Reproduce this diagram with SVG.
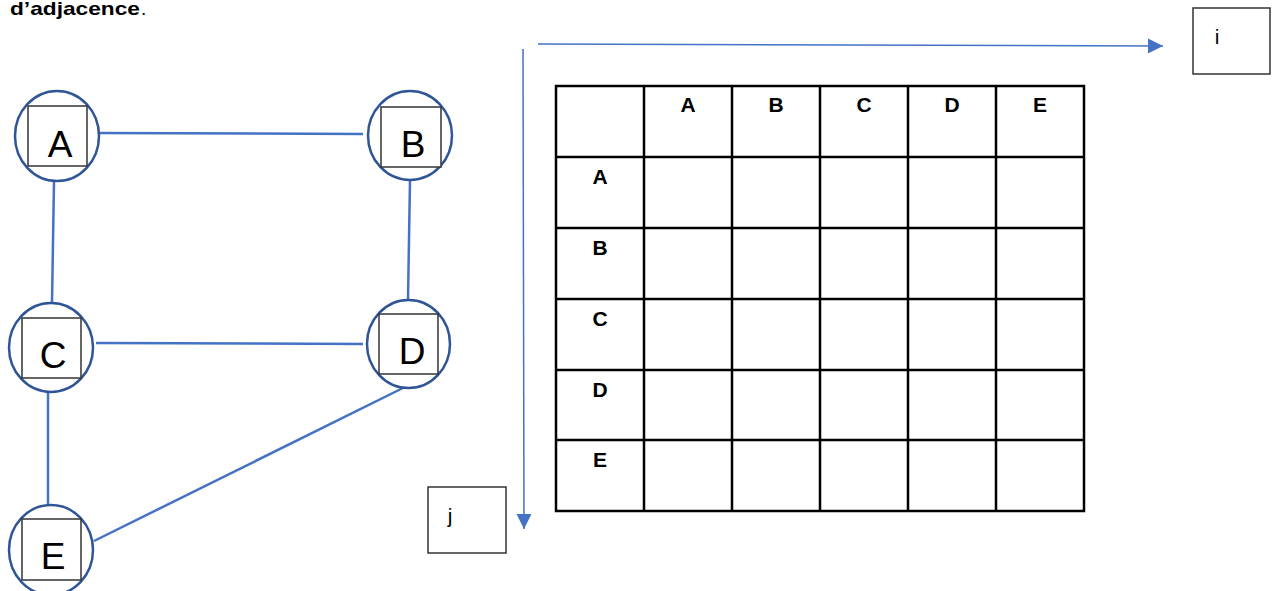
<svg xmlns="http://www.w3.org/2000/svg" width="1272" height="591" viewBox="0 0 1272 591">
<style>
.circ{fill:#fff;stroke:#2F5597;stroke-width:2.5}
.sq{fill:#fff;stroke:#333;stroke-width:1.5}
.lbl{font-family:"Liberation Sans",Arial,sans-serif;font-size:37px;fill:#000;text-anchor:middle}
.edge{stroke:#4472C4;stroke-width:2.5;fill:none}
.axis{stroke:#4472C4;stroke-width:1.5;fill:none}
.grid{stroke:#000;stroke-width:2.5;fill:none}
.th{font-family:"Liberation Sans",Arial,sans-serif;font-size:21px;font-weight:bold;fill:#000;text-anchor:middle}
.box{fill:#fff;stroke:#333;stroke-width:1.5}
.ij{font-family:"Liberation Sans",Arial,sans-serif;font-size:21px;fill:#000;text-anchor:middle}
</style>
<defs>
<marker id="arr" viewBox="0 0 15 15" refX="15" refY="7.5" markerWidth="15" markerHeight="15" markerUnits="userSpaceOnUse" orient="auto">
<path d="M0,0 L15,7.5 L0,15 Z" fill="#4472C4"/>
</marker>
</defs>
<text x="10" y="15" font-family="Liberation Sans, Arial, sans-serif" font-size="19" font-weight="bold" textLength="130" lengthAdjust="spacingAndGlyphs">d’adjacence</text><text x="141" y="15" font-family="Liberation Sans, Arial, sans-serif" font-size="19">.</text>
<g id="connectors">
<line class="edge" x1="95" y1="133" x2="363" y2="134"/>
<line class="edge" x1="54" y1="181" x2="52" y2="303"/>
<line class="edge" x1="410" y1="180" x2="408" y2="300"/>
<line class="edge" x1="96" y1="343" x2="363" y2="344"/>
<line class="edge" x1="48" y1="393" x2="48" y2="505"/>
<line class="edge" x1="94" y1="541" x2="409" y2="385"/>
<line class="axis" x1="538" y1="44" x2="1163" y2="46" marker-end="url(#arr)"/>
<line class="axis" x1="523" y1="49" x2="524" y2="529" marker-end="url(#arr)"/>
</g>
<g id="node-A">
<ellipse class="circ" cx="57" cy="136" rx="42" ry="45"/>
<rect class="sq" x="28" y="106" width="59" height="60"/>
<text class="lbl" x="60" y="157">A</text>
</g>
<g id="node-B">
<ellipse class="circ" cx="410" cy="135.5" rx="42" ry="44.5"/>
<rect class="sq" x="381" y="107" width="60" height="60"/>
<text class="lbl" x="413" y="157">B</text>
</g>
<g id="node-C">
<ellipse class="circ" cx="51" cy="347.5" rx="42" ry="44.5"/>
<rect class="sq" x="22" y="318" width="59" height="60"/>
<text class="lbl" x="53" y="368">C</text>
</g>
<g id="node-D">
<ellipse class="circ" cx="408.5" cy="344" rx="41.5" ry="44"/>
<rect class="sq" x="379" y="314" width="59" height="60"/>
<text class="lbl" x="412" y="364">D</text>
</g>
<g id="node-E">
<ellipse class="circ" cx="51" cy="550" rx="42" ry="45"/>
<rect class="sq" x="22" y="519" width="59" height="61"/>
<text class="lbl" x="53" y="569">E</text>
</g>
<g id="box-i">
<rect class="box" x="1193" y="8" width="77" height="66"/>
<text class="ij" x="1217" y="44">i</text>
</g>
<g id="box-j">
<rect class="box" x="428" y="487" width="78" height="66"/>
<text class="ij" x="450" y="523">j</text>
</g>
<g id="table">
<rect class="grid" x="556" y="86" width="528" height="425"/>
<path class="grid" d="M644,86V511M732,86V511M820,86V511M908,86V511M996,86V511M556,157H1084M556,228H1084M556,299H1084M556,370H1084M556,440H1084"/>
<text class="th" x="688" y="112">A</text>
<text class="th" x="776" y="112">B</text>
<text class="th" x="864" y="112">C</text>
<text class="th" x="952" y="112">D</text>
<text class="th" x="1040" y="112">E</text>
<text class="th" x="600" y="184">A</text>
<text class="th" x="600" y="255">B</text>
<text class="th" x="600" y="326">C</text>
<text class="th" x="600" y="397">D</text>
<text class="th" x="600" y="467">E</text>
</g>
</svg>
